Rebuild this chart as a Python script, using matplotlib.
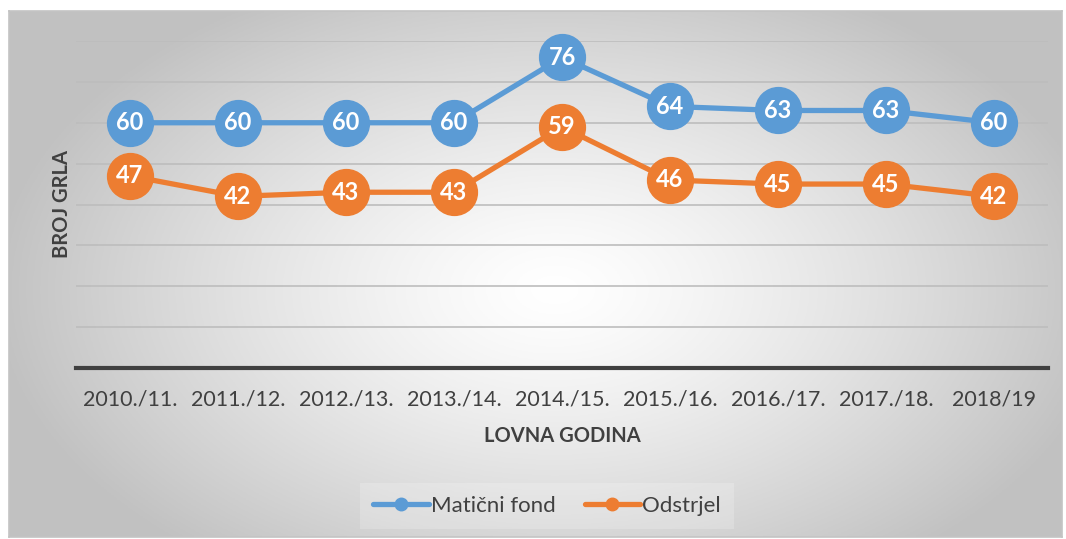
import matplotlib.pyplot as plt
import numpy as np

seasons = ['2010./11.', '2011./12.', '2012./13.', '2013./14.', '2014./15.',
           '2015./16.', '2016./17.', '2017./18.', '2018/19']
maticni_fond = [60, 60, 60, 60, 76, 64, 63, 63, 60]
odstrjel = [47, 42, 43, 43, 59, 46, 45, 45, 42]

blue = '#5B9BD5'
orange = '#ED7D31'

plt.rcParams['font.family'] = ['Lato', 'DejaVu Sans']

fig = plt.figure(figsize=(10.66, 5.39), dpi=100)

# radial gradient background of the chart frame
W, H = 1066, 539
x0, x1, y0, y1 = 9, 1062, 11, 537
bg = fig.add_axes([x0 / W, 1 - y1 / H, (x1 - x0) / W, (y1 - y0) / H])
gx, gy = np.meshgrid(np.linspace(x0, x1, 400), np.linspace(y0, y1, 200))
r = np.sqrt(((gx - 555) / 560) ** 2 + ((gy - 290) / 340) ** 2)
shade = 1 - 0.24 * np.clip(r, 0, 1) ** 1.3
bg.imshow(np.dstack([shade] * 3), aspect='auto', extent=[0, 1, 0, 1])
bg.set_xticks([])
bg.set_yticks([])
for s in bg.spines.values():
    s.set_color('#c4c4c4')
    s.set_linewidth(1.2)

ax = fig.add_axes([76 / W, 1 - 368 / H, (1048 - 76) / W, (368 - 41) / H])
ax.patch.set_alpha(0)
x = np.arange(len(seasons))

ax.set_ylim(0, 80)
ax.set_xlim(-0.5, len(seasons) - 0.5)
ax.set_yticks(np.arange(10, 81, 10))
ax.yaxis.grid(True, color='#bdbdbd', linewidth=1.2)
ax.set_axisbelow(True)
ax.tick_params(axis='y', left=False, labelleft=False)
ax.tick_params(axis='x', bottom=False, labelsize=15.5, labelcolor='#404040', pad=12)
ax.set_xticks(x)
ax.set_xticklabels(seasons)
for side in ['top', 'right', 'left']:
    ax.spines[side].set_visible(False)
ax.spines['bottom'].set_color('#404040')
ax.spines['bottom'].set_linewidth(3)

for vals, c, lab in [(maticni_fond, blue, 'Matični fond'), (odstrjel, orange, 'Odstrjel')]:
    ax.plot(x, vals, color=c, linewidth=3.8, marker='o', markersize=33,
            markeredgecolor=c, label=lab, solid_capstyle='round', clip_on=False)
    for xi, v in zip(x, vals):
        ax.text(xi, v, str(v), ha='center', va='center', color='white',
                fontsize=17, fontweight='bold', zorder=5)

ax.set_xlabel('LOVNA GODINA', fontsize=14.5, fontweight='bold', color='#404040', labelpad=12)
ax.set_ylabel('BROJ GRLA', fontsize=14.5, fontweight='bold', color='#404040')
ax.yaxis.set_label_coords((72 - 76) / (1048 - 76), 0.5)

leg_handles = [plt.Line2D([], [], color=c, linewidth=3.8, marker='o', markersize=9,
                          solid_capstyle='round') for c in (blue, orange)]
leg = fig.legend(leg_handles, ['Matični fond', 'Odstrjel'], loc='center',
                 bbox_to_anchor=(547 / W, 1 - 506 / H), ncol=2, frameon=True,
                 fontsize=16, handlelength=2.5, handletextpad=0.1, columnspacing=1.3,
                 labelcolor='#404040')
leg.get_frame().set_facecolor('white')
leg.get_frame().set_alpha(0.2)
leg.get_frame().set_edgecolor('none')
leg.get_frame().set_boxstyle('square', pad=0.2)

fig.savefig('out.png', dpi=100)
